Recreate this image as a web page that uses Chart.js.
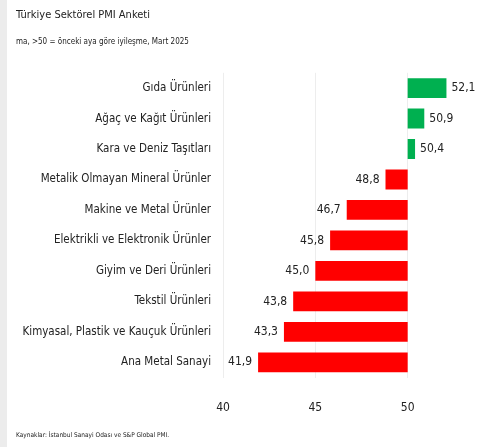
<!DOCTYPE html>
<html>
<head>
<meta charset="utf-8">
<script src="https://cdn.jsdelivr.net/npm/chart.js@4/dist/chart.umd.min.js"></script>
<style>
  html, body { margin: 0; padding: 0; background: #fff; }
  #wrap { width: 500px; height: 447px; }
</style>
</head>
<body>
<div id="wrap"><canvas id="pmiChart" width="500" height="447"></canvas></div>
<script>
// veriler
const sektorler = [
    'Gıda Ürünleri',
    'Ağaç ve Kağıt Ürünleri',
    'Kara ve Deniz Taşıtları',
    'Metalik Olmayan Mineral Ürünler',
    'Makine ve Metal Ürünler',
    'Elektrikli ve Elektronik Ürünler',
    'Giyim ve Deri Ürünleri',
    'Tekstil Ürünleri',
    'Kimyasal, Plastik ve Kauçuk Ürünleri',
    'Ana Metal Sanayi'
];
const pmiDegerleri = [52.1, 50.9, 50.4, 48.8, 46.7, 45.8, 45.0, 43.8, 43.3, 41.9];
const esikDeger = 50;
const xTickleri = [40, 45, 50];

const baslik = 'Türkiye Sektörel PMI Anketi';
const altBaslik = 'ma, >50 = önceki aya göre iyileşme, Mart 2025';
const kaynak = 'Kaynaklar: İstanbul Sanayi Odası ve S&P Global PMI.';

const FONT = '"Liberation Sans Narrow", "DejaVu Sans Condensed", sans-serif';
const YESIL = '#00b050';
const KIRMIZI = '#ff0000';

const virgul = v => v.toFixed(1).replace('.', ',');

// arka plan + sol gri serit + kaynak notu
const zeminPlugin = {
    id: 'zemin',
    beforeDraw(chart) {
        const ctx = chart.ctx;
        ctx.save();
        ctx.fillStyle = '#ffffff';
        ctx.fillRect(0, 0, chart.width, chart.height);
        ctx.fillStyle = '#ececec';
        ctx.fillRect(0, 0, 7, chart.height);
        ctx.restore();
    },
    afterDraw(chart) {
        const ctx = chart.ctx;
        ctx.save();
        ctx.font = '6.5px ' + FONT;
        ctx.fillStyle = '#222';
        ctx.textBaseline = 'middle';
        ctx.textAlign = 'left';
        ctx.fillText(kaynak, 16, 435);
        ctx.restore();
    }
};

// bar ucundaki deger etiketleri
const degerPlugin = {
    id: 'degerEtiketi',
    afterDatasetsDraw(chart) {
        const ctx = chart.ctx;
        const meta = chart.getDatasetMeta(0);
        const xs = chart.scales.x;
        ctx.save();
        ctx.font = '12px ' + FONT;
        ctx.fillStyle = '#222';
        ctx.textBaseline = 'middle';
        meta.data.forEach((bar, i) => {
            const v = pmiDegerleri[i];
            const px = xs.getPixelForValue(v);
            if (v >= esikDeger) {
                ctx.textAlign = 'left';
                ctx.fillText(virgul(v), px + 5, bar.y);
            } else {
                ctx.textAlign = 'right';
                ctx.fillText(virgul(v), px - 6, bar.y);
            }
        });
        ctx.restore();
    }
};

new Chart(document.getElementById('pmiChart'), {
    type: 'bar',
    data: {
        labels: sektorler,
        datasets: [{
            data: pmiDegerleri.map(v => [esikDeger, v]),
            backgroundColor: pmiDegerleri.map(v => v >= esikDeger ? YESIL : KIRMIZI),
            borderWidth: 0,
            barPercentage: 0.65,
            categoryPercentage: 1
        }]
    },
    options: {
        indexAxis: 'y',
        responsive: false,
        animation: false,
        layout: { padding: { left: 16, right: 0, top: 0, bottom: 9 } },
        plugins: {
            legend: { display: false },
            tooltip: { enabled: false },
            title: {
                display: true,
                text: baslik,
                align: 'start',
                color: '#222',
                font: { family: FONT, size: 11, weight: 'normal' },
                padding: { top: 9, bottom: 6 }
            },
            subtitle: {
                display: true,
                text: altBaslik,
                align: 'start',
                color: '#222',
                font: { family: FONT, size: 8 },
                padding: { top: 9, bottom: 26 }
            }
        },
        scales: {
            x: {
                min: 40,
                max: 55,
                afterBuildTicks(scale) {
                    scale.ticks = xTickleri.map(v => ({ value: v }));
                },
                grid: { color: 'rgba(0,0,0,0.07)', drawTicks: false },
                border: { display: false },
                ticks: {
                    padding: 23,
                    color: '#222',
                    font: { family: FONT, size: 12 },
                    callback: v => v
                }
            },
            y: {
                afterFit(scale) { scale.width = 207; },
                grid: { display: false, drawTicks: false },
                border: { display: false },
                ticks: {
                    padding: 12,
                    color: '#222',
                    font: { family: FONT, size: 11.5 }
                }
            }
        }
    },
    plugins: [zeminPlugin, degerPlugin]
});
</script>
</body>
</html>
